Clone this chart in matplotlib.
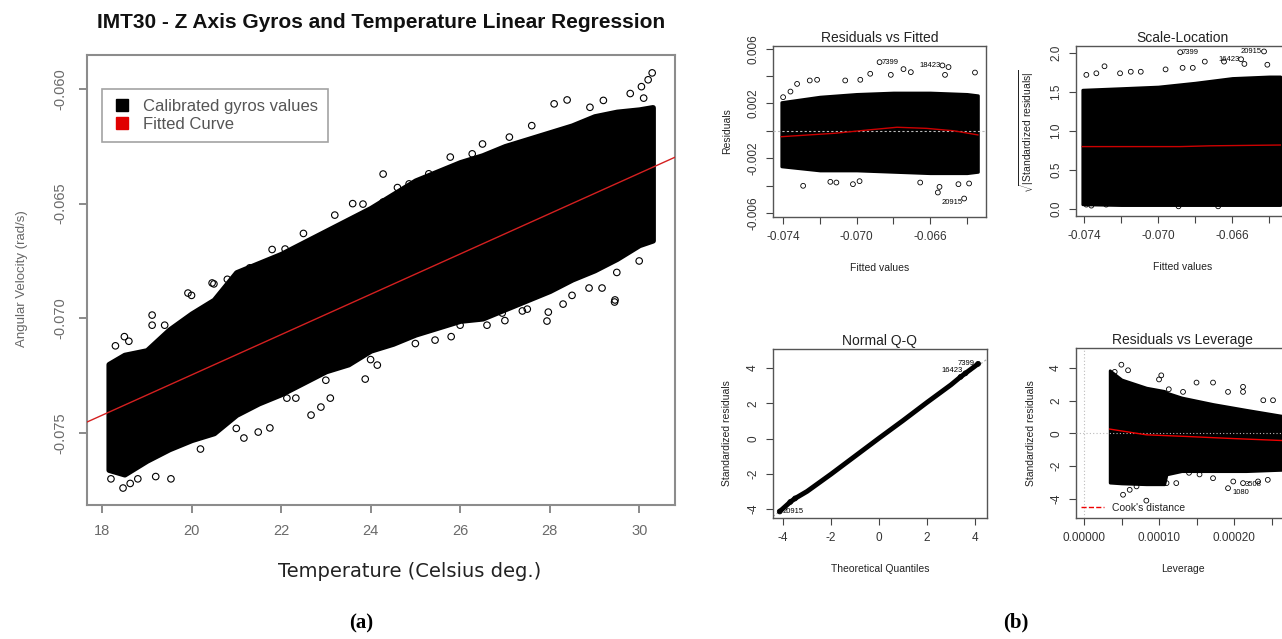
#!/usr/bin/env python

# Gyro vs temperature regression (a) and the four lm diagnostic plots (b).
# The dense point clouds are drawn as envelopes, with
# the visible outlying circles plotted on top.

import numpy as np
import matplotlib
matplotlib.use("Agg")
import matplotlib.pyplot as plt
from matplotlib.lines import Line2D

plt.rcParams["font.family"] = ["Liberation Sans", "DejaVu Sans"]
plt.rcParams["mathtext.fontset"] = "custom"
plt.rcParams["mathtext.rm"] = "Liberation Sans"
plt.rcParams["axes.unicode_minus"] = False

# ---------------- panel (a) data ----------------
temp_grid = [18.15, 18.5, 19, 19.5, 20, 20.5, 21, 21.5, 22, 22.5, 23, 23.5, 24,
             24.5, 25, 25.5, 26, 26.5, 27, 27.5, 28, 28.5, 29, 29.5, 30, 30.3]
gyro_upper = [-0.0720, -0.0716, -0.0714, -0.0705, -0.0698, -0.0692, -0.0680,
              -0.0676, -0.0672, -0.0667, -0.0662, -0.0657, -0.0652, -0.0646,
              -0.0640, -0.0636, -0.0632, -0.0629, -0.0625, -0.0622, -0.0619,
              -0.0616, -0.0612, -0.0610, -0.0609, -0.0608]
gyro_lower = [-0.0766, -0.0768, -0.0762, -0.0757, -0.0753, -0.0750, -0.0742,
              -0.0737, -0.0733, -0.0728, -0.0723, -0.0720, -0.0714, -0.0711,
              -0.0707, -0.0704, -0.0701, -0.0700, -0.0696, -0.0692, -0.0688,
              -0.0683, -0.0679, -0.0674, -0.0668, -0.0666]
gyro_outliers = [
    (24.28, -0.06371), (28.10, -0.06065), (28.39, -0.06048), (30.29, -0.0593),
    (30.20, -0.0596), (30.05, -0.0599), (26.27, -0.06283), (25.78, -0.06297),
    (24.86, -0.06414), (23.83, -0.06502), (24.28, -0.06493), (22.09, -0.06698),
    (20.46, -0.06846), (19.92, -0.0689), (19.12, -0.06986), (29.46, -0.0692),
    (28.30, -0.06938), (27.97, -0.06973), (26.94, -0.06977), (27.39, -0.06968),
    (28.88, -0.06868), (29.17, -0.06868), (19.12, -0.0703), (18.20, -0.0770),
    (18.47, -0.0774), (18.63, -0.0772), (18.80, -0.0770), (19.20, -0.0769),
    (19.54, -0.0770), (21.17, -0.07522), (21.49, -0.07496), (21.75, -0.07478),
    (22.67, -0.07422), (22.89, -0.07387), (23.10, -0.07348), (23.88, -0.07265),
    (24.15, -0.07204), (25.44, -0.07095), (27.94, -0.07012), (29.45, -0.06929),
    (22.13, -0.07348), (22.33, -0.07348), (20.0, -0.0690), (20.5, -0.0685),
    (21.3, -0.0678), (22.5, -0.0663), (23.2, -0.0655), (24.6, -0.0643),
    (25.3, -0.0637), (27.1, -0.0621), (27.6, -0.0616), (28.9, -0.0608),
    (29.8, -0.0602), (23.0, -0.0727), (24.0, -0.0718), (25.0, -0.0711),
    (26.0, -0.0703), (26.6, -0.0703), (27.5, -0.0696), (28.5, -0.0690),
    (29.5, -0.0680), (30.0, -0.0675), (18.3, -0.0712), (18.5, -0.0708),
    (18.6, -0.0710), (19.4, -0.0703), (20.8, -0.0683), (21.8, -0.0670),
    (23.6, -0.0650), (26.5, -0.0624), (29.2, -0.0605), (30.1, -0.0604),
    (20.2, -0.0757), (21.0, -0.0748), (25.8, -0.0708), (27.0, -0.0701),
]
fit_intercept, fit_slope = -0.09005, 0.000879

# ---------------- panel (b) data ----------------
fit_grid = [-0.0741, -0.072, -0.070, -0.068, -0.066, -0.064, -0.0634]
res_upper = [0.0021, 0.0025, 0.0027, 0.0028, 0.0028, 0.0027, 0.0026]
res_lower = [-0.0026, -0.0029, -0.0029, -0.0030, -0.0031, -0.0031, -0.0030]
res_outliers = [
    (-0.06875, 0.00502), (-0.06533, 0.00478), (-0.06500, 0.00466),
    (-0.06415, -0.00495), (-0.06558, -0.00451), (-0.06549, -0.00410),
    (-0.07291, -0.00402), (-0.0702, -0.0039), (-0.06984, -0.00368),
    (-0.07143, -0.00373), (-0.0711, -0.00378), (-0.06446, -0.0039),
    (-0.06388, -0.00385), (-0.06654, -0.00378), (-0.07324, 0.00343),
    (-0.07215, 0.00373), (-0.07255, 0.00368), (-0.0736, 0.00287),
    (-0.0740, 0.00246), (-0.06814, 0.00409), (-0.06745, 0.00451),
    (-0.06705, 0.00429), (-0.06926, 0.00417), (-0.0698, 0.00373),
    (-0.06519, 0.00409), (-0.06356, 0.00426), (-0.07062, 0.00368),
]
res_loess_x = [-0.0741, -0.0712, -0.0694, -0.0678, -0.0662, -0.0647, -0.0634]
res_loess_y = [-0.00043, -0.00018, 0.00006, 0.00026, 0.00018, 0.0, -0.0003]

sl_upper = [1.53, 1.55, 1.57, 1.62, 1.68, 1.70, 1.70]
sl_lower = [0.06, 0.05, 0.05, 0.05, 0.05, 0.05, 0.05]
sl_outliers = [
    (-0.06881, 2.01), (-0.06428, 2.02), (-0.06552, 1.92), (-0.0729, 1.83),
    (-0.07388, 1.72), (-0.07148, 1.76), (-0.07094, 1.76), (-0.06868, 1.81),
    (-0.06748, 1.89), (-0.06644, 1.89), (-0.06534, 1.86), (-0.07334, 1.74),
    (-0.0696, 1.79), (-0.06813, 1.81), (-0.07206, 1.74), (-0.0641, 1.85),
    (-0.07388, 0.056), (-0.07361, 0.043), (-0.07281, 0.056), (-0.0689, 0.034),
    (-0.06676, 0.034),
]
sl_loess_x = [-0.0741, -0.0688, -0.0672, -0.0634]
sl_loess_y = [0.80, 0.80, 0.81, 0.82]

qq_theo = [-4.14, -3.7, -3.5, -3.0, -2.0, -1.0, 0.0, 1.0, 2.0, 3.0, 3.4, 3.6, 4.13]
qq_sample = [-4.14, -3.6, -3.4, -3.0, -2.02, -1.0, 0.02, 1.02, 2.05, 3.05, 3.5, 3.7, 4.24]

lev_grid = [3.42e-5, 5.0e-5, 8.3e-5, 1.07e-4, 1.10e-4, 1.30e-4, 1.72e-4, 2.16e-4, 2.75e-4]
lev_upper = [3.86, 3.3, 2.8, 2.6, 2.5, 2.2, 1.8, 1.45, 1.0]
lev_lower = [-3.0, -3.05, -3.1, -3.1, -2.5, -2.3, -2.3, -2.3, -2.2]
lev_outliers = [
    (4.98e-5, 4.2), (5.87e-5, 3.86), (4.09e-5, 3.76), (1.03e-4, 3.55),
    (1.00e-4, 3.3), (1.50e-4, 3.11), (1.72e-4, 3.11), (2.12e-4, 2.85),
    (2.12e-4, 2.54), (1.92e-4, 2.54), (2.39e-4, 2.03), (2.52e-4, 2.03),
    (1.32e-4, 2.54), (1.13e-4, 2.7), (5.2e-5, -3.74), (8.31e-5, -4.1),
    (6.09e-5, -3.44), (7.0e-5, -3.23), (1.10e-4, -3.03), (1.23e-4, -3.03),
    (1.92e-4, -3.34), (1.99e-4, -2.93), (2.12e-4, -3.03), (2.32e-4, -2.93),
    (2.45e-4, -2.83), (1.72e-4, -2.73), (1.54e-4, -2.5), (1.40e-4, -2.4),
]
lev_loess_x = [3.42e-5, 8.3e-5, 1.36e-4, 1.94e-4, 2.75e-4]
lev_loess_y = [0.27, -0.08, -0.18, -0.3, -0.45]


def cloud(ax, xg, lo, hi, pts, s, lw, edge):
    """Dense black cloud (stroked so the border is soft) plus outlier circles."""
    ax.fill_between(xg, lo, hi, facecolor="black", edgecolor="black", lw=edge,
                    joinstyle="round", zorder=2)
    p = np.array(pts)
    ax.scatter(p[:, 0], p[:, 1], s=s, facecolors="none", edgecolors="black",
               lw=lw, zorder=3)


def r_frame(ax, color, lw):
    for sp in ax.spines.values():
        sp.set_color(color)
        sp.set_linewidth(lw)


fig = plt.figure(figsize=(12.82, 6.39), dpi=100, facecolor="white")

# ---------------- (a) ----------------
ax = fig.add_axes([87 / 1282, 1 - 505 / 639, 588 / 1282, 450 / 639])
cloud(ax, temp_grid, gyro_lower, gyro_upper, gyro_outliers, 22, 0.8, 4)
ax.axline((0, fit_intercept), slope=fit_slope, color="#d42020", lw=1.0, zorder=4)
ax.set_xlim(17.665, 30.80)
ax.set_ylim(-0.07814, -0.05852)
ax.set_xticks([18, 20, 22, 24, 26, 28, 30])
ax.set_yticks([-0.060, -0.065, -0.070, -0.075])
ax.set_yticklabels(["-0.060", "-0.065", "-0.070", "-0.075"])
ax.tick_params(colors="#777777", labelcolor="#6a6a6a", labelsize=10.5,
               length=6, width=1.2, pad=8)
ax.tick_params(axis="y", labelrotation=90)
for lab in ax.get_yticklabels():
    lab.set_va("center")
r_frame(ax, "#8c8c8c", 1.5)
ax.text(0.5, 1.0733, "IMT30 - Z Axis Gyros and Temperature Linear Regression",
        transform=ax.transAxes, ha="center", va="center", fontsize=15,
        fontweight="bold", color="#111111")
ax.set_xlabel("Temperature (Celsius deg.)", family="DejaVu Sans", fontsize=14,
              color="#222222")
ax.xaxis.set_label_coords(0.549, -0.127)
ax.set_ylabel("Angular Velocity (rad/s)", fontsize=9.5, color="#666666")
ax.yaxis.set_label_coords(-0.100, 0.502)
sq = dict(marker="s", ls="none", markersize=8.5)
leg = ax.legend([Line2D([], [], color="black", **sq),
                 Line2D([], [], color="#e00000", **sq)],
                ["Calibrated gyros values", "Fitted Curve"],
                loc="upper left", bbox_to_anchor=(0.0255, 0.924),
                borderaxespad=0, fancybox=False, fontsize=12,
                handlelength=1.2, labelcolor="#555555",
                borderpad=0.6, handletextpad=0.66, labelspacing=0.15)
leg.get_frame().set_edgecolor("#8c8c8c")
leg.get_frame().set_linewidth(1.2)

# ---------------- (b) shared styling ----------------
tick_kw = dict(colors="#444444", labelcolor="#333333", labelsize=8.5,
               length=5, width=0.8, pad=5)
circ = 12
fitted_ticks = [-0.074, -0.072, -0.070, -0.068, -0.066, -0.064]
fitted_labels = ["-0.074", "", "-0.070", "", "-0.066", ""]
fitted_lim = (-0.07455, -0.06296)


def diag_axes(rect, title, xlabel, ylabel):
    a = fig.add_axes(rect)
    a.set_title(title, fontsize=10, color="#222222", pad=3)
    a.set_xlabel(xlabel, fontsize=7.5, color="#222222")
    a.set_ylabel(ylabel, fontsize=7.5, color="#222222")
    a.xaxis.set_label_coords(0.5, -0.27)
    a.yaxis.set_label_coords(-0.19, 0.5)
    a.tick_params(**tick_kw)
    a.tick_params(axis="y", labelrotation=90)
    r_frame(a, "#555555", 1.0)
    return a


w = 213 / 1282

# Residuals vs Fitted
b1 = diag_axes([773 / 1282, 1 - 217 / 639, w, 171 / 639],
               "Residuals vs Fitted", "Fitted values", "Residuals")
cloud(b1, fit_grid, res_lower, res_upper, res_outliers, circ, 0.6, 2)
b1.axhline(0, color="#bbbbbb", lw=0.8, ls=(0, (2, 2)), zorder=4)
b1.plot(res_loess_x, res_loess_y, color="#cc0000", lw=1.0, zorder=5)
b1.set_xlim(*fitted_lim)
b1.set_ylim(-0.0063, 0.0062)
b1.set_xticks(fitted_ticks)
b1.set_xticklabels(fitted_labels)
b1.set_yticks([0.006, 0.004, 0.002, 0.0, -0.002, -0.004, -0.006])
b1.set_yticklabels(["0.006", "", "0.002", "", "-0.002", "", "-0.006"], va="center")
b1.text(-0.06865, 0.00502, "7399", fontsize=5.5, va="center")
b1.text(-0.06545, 0.00478, "18423", fontsize=5.5, va="center", ha="right")
b1.text(-0.06425, -0.00525, "20915", fontsize=5.5, va="center", ha="right")

# Scale-Location
b2 = diag_axes([1076 / 1282, 1 - 216 / 639, w, 170 / 639],
               "Scale-Location", "Fitted values",
               r"$\sqrt{|\mathrm{Standardized\ residuals}|}$")
cloud(b2, fit_grid, sl_lower, sl_upper, sl_outliers, circ, 0.6, 2)
b2.plot(sl_loess_x, sl_loess_y, color="#cc0000", lw=1.0, zorder=5)
b2.set_xlim(-0.07444, -0.06293)
b2.set_ylim(-0.09, 2.09)
b2.set_xticks(fitted_ticks)
b2.set_xticklabels(fitted_labels)
b2.set_yticks([0.0, 0.5, 1.0, 1.5, 2.0])
b2.set_yticklabels(["0.0", "0.5", "1.0", "1.5", "2.0"], va="center")
b2.text(-0.06871, 2.01, "7399", fontsize=5.5, va="center")
b2.text(-0.06562, 1.92, "16423", fontsize=5.5, va="center", ha="right")
b2.text(-0.06438, 2.02, "20915", fontsize=5.5, va="center", ha="right")

# Normal Q-Q
b3 = diag_axes([773 / 1282, 1 - 518 / 639, 214 / 1282, 169 / 639],
               "Normal Q-Q", "Theoretical Quantiles", "Standardized residuals")
b3.axline((0, 0), slope=1.0, color="#aaaaaa", lw=0.8, ls=(0, (2, 2)), zorder=2)
b3.plot(qq_theo, qq_sample, color="black", lw=3.5, solid_capstyle="round", zorder=3)
b3.scatter(qq_theo[:3] + qq_theo[-3:], qq_sample[:3] + qq_sample[-3:], s=circ,
           facecolors="none", edgecolors="black", lw=0.6, zorder=4)
b3.set_xlim(-4.42, 4.5)
b3.set_ylim(-4.51, 5.08)
b3.set_xticks([-4, -2, 0, 2, 4])
b3.set_yticks([-4, -2, 0, 2, 4])
b3.set_yticklabels(["-4", "-2", "0", "2", "4"], va="center")
b3.text(4.0, 4.24, "7399", fontsize=5.5, va="center", ha="right")
b3.text(3.5, 3.85, "16423", fontsize=5.5, va="center", ha="right")
b3.text(-4.0, -4.14, "20915", fontsize=5.5, va="center")

# Residuals vs Leverage
b4 = diag_axes([1076 / 1282, 1 - 518 / 639, w, 170 / 639],
               "Residuals vs Leverage", "Leverage", "Standardized residuals")
cloud(b4, lev_grid, lev_lower, lev_upper, lev_outliers, circ, 0.6, 2)
b4.axhline(0, color="#bbbbbb", lw=0.8, ls=(0, (1, 2)), zorder=4)
b4.axvline(0, color="#bbbbbb", lw=0.8, ls=(0, (1, 2)), zorder=4)
b4.plot(lev_loess_x, lev_loess_y, color="#ee0000", lw=1.0, zorder=5)
b4.set_xlim(-1.07e-5, 2.733e-4)
b4.set_ylim(-5.16, 5.22)
b4.set_xticks([0, 5e-5, 1e-4, 1.5e-4, 2e-4, 2.5e-4])
b4.set_xticklabels(["0.00000", "", "0.00010", "", "0.00020", ""])
b4.set_yticks([-4, -2, 0, 2, 4])
b4.set_yticklabels(["-4", "-2", "0", "2", "4"], va="center")
b4.text(2.09e-4, -3.62, "1080", fontsize=5.5, va="center", ha="center")
b4.text(2.25e-4, -3.1, "3508", fontsize=5.5, va="center", ha="center")
b4.legend([Line2D([], [], color="#ee0000", ls="--", lw=1.0)], ["Cook's distance"],
          loc="lower left", frameon=False, fontsize=7.5, handlelength=2.2,
          borderaxespad=0.2, borderpad=0.3, labelcolor="#222222")

# panel letters
fig.text(0.2816, 0.025, "(a)", family="Liberation Serif", fontweight="bold",
         fontsize=15, ha="center", va="center")
fig.text(0.7925, 0.0266, "(b)", family="Liberation Serif", fontweight="bold",
         fontsize=15, ha="center", va="center")

fig.savefig("out.png", dpi=100, facecolor="white")
